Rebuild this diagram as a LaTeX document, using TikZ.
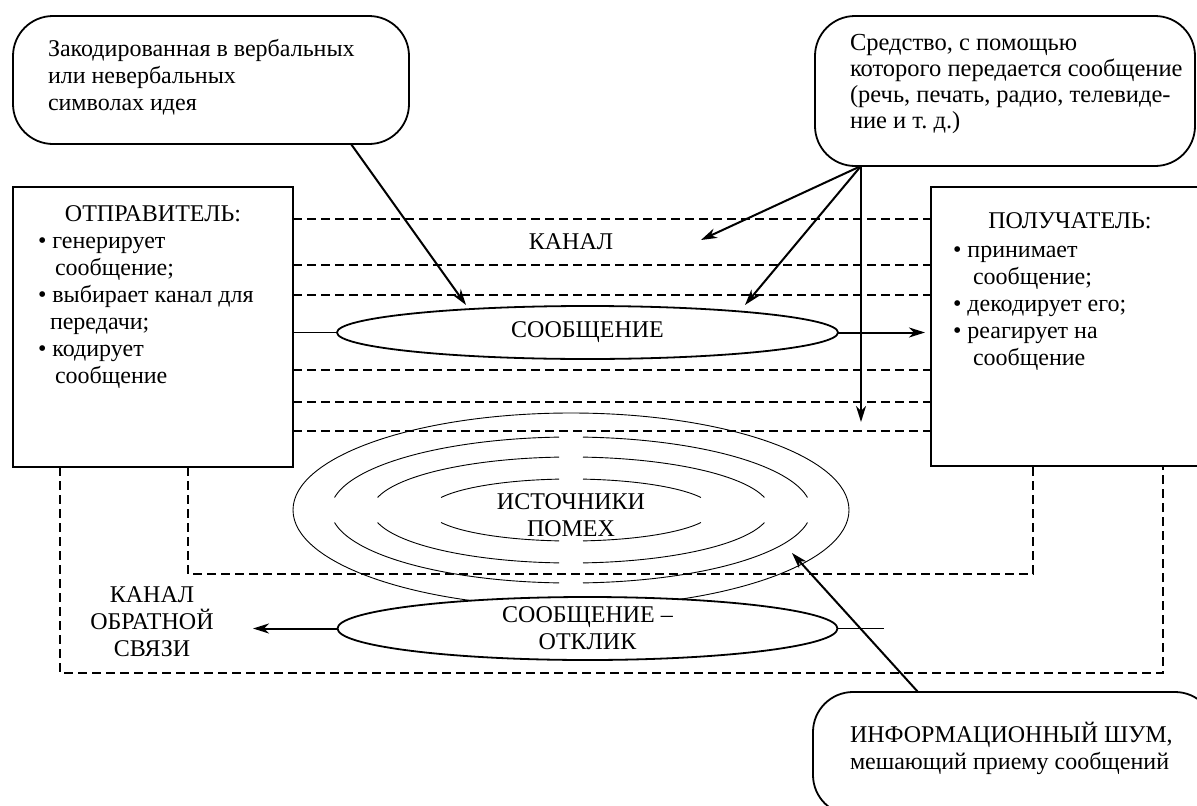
\documentclass[tikz,border=0pt]{standalone}
\usepackage{fontspec}
\setmainfont{Liberation Serif}
\usetikzlibrary{arrows.meta,shapes.geometric}
\begin{document}
\begin{tikzpicture}[x=1pt,y=-1pt,
  every node/.style={font=\fontsize{24}{27}\selectfont, inner sep=0pt, outer sep=0pt},
  frame/.style={draw, line width=1.8pt, fill=white, rectangle},
  callout/.style={draw, line width=1.8pt, rounded corners=40pt, fill=white, rectangle},
  msg/.style={draw, ellipse, line width=1.8pt, fill=white, align=center},
  chan/.style={line width=1.1pt, dash pattern=on 9pt off 5pt},
  noise/.style={line width=0.9pt},
  arr/.style={line width=2pt, -{Stealth[length=16pt,width=10pt,inset=5pt]}},
]
\clip (0,0) rectangle (1197,806);
\fill[white] (0,0) rectangle (1197,806);

% noise sources
\foreach \rx/\ry in {240/73, 199/53, 142/31} {
  \pgfmathsetmacro\ta{acos(12/\rx)}
  \pgfmathsetmacro\tb{asin(12.5/\ry)}
  \draw[noise] plot[domain=\tb:\ta, samples=40, smooth] ({571+\rx*cos(\x)}, {510+\ry*sin(\x)});
  \draw[noise] plot[domain={180-\ta}:{180-\tb}, samples=40, smooth] ({571+\rx*cos(\x)}, {510+\ry*sin(\x)});
  \draw[noise] plot[domain={180+\tb}:{180+\ta}, samples=40, smooth] ({571+\rx*cos(\x)}, {510+\ry*sin(\x)});
  \draw[noise] plot[domain={360-\ta}:{360-\tb}, samples=40, smooth] ({571+\rx*cos(\x)}, {510+\ry*sin(\x)});
}
\node[draw, ellipse, noise, minimum width=556pt, minimum height=194pt] (noise) at (571,510) {};
\node[align=center] (noisetxt) at (571,515) {ИСТОЧНИКИ\\ПОМЕХ};

% boxes
\node[frame, minimum width=280pt, minimum height=280pt] (snd) at (153,327) {};
\node[frame, minimum width=274pt, minimum height=279pt] (rcv) at (1068,326.5) {};

% channel lines
\foreach \yy in {219,265,295,370,402,431}
  \draw[chan] (snd.east |- 0,\yy) -- (rcv.west |- 0,\yy);

% feedback channel
\coordinate (fa) at (188,574);
\coordinate (fb) at (1033,574);
\coordinate (fc) at (60,673);
\coordinate (fd) at (1163,673);
\draw[chan] (snd.south -| fa) -- (fa) -- (fb) -- (rcv.south -| fb);
\draw[chan] (snd.south -| fc) -- (fc) -- (fd) -- (rcv.south -| fd);

% messages
\node[msg, minimum width=501pt, minimum height=53pt] (msg) at (587.5,332.5) {СООБЩЕНИЕ};
\node[msg, minimum width=500pt, minimum height=63pt] (resp) at (587.5,628.5) {СООБЩЕНИЕ –\\ОТКЛИК};
\draw[line width=1.1pt] (snd.east |- msg.west) -- (msg.west);
\draw[arr, shorten >=6pt] (msg.east) -- (rcv.west |- msg.east);
\coordinate (fbtip) at (253,628.5);
\coordinate (respend) at (884,628.5);
\draw[arr] (resp.west) -- (fbtip);
\draw[line width=1.1pt] (resp.east) -- (respend);

% callouts
\node[callout, minimum width=396pt, minimum height=128pt] (c1) at (211,80) {};
\node[callout, minimum width=380pt, minimum height=150pt] (c2) at (1005,91) {};
\node[callout, minimum width=402pt, minimum height=123pt] (c3) at (1014,753.5) {};

% arrows
\coordinate (t1) at (466,305);
\coordinate (t2) at (701,240);
\coordinate (t3) at (745,305);
\coordinate (t4) at (861,422);
\coordinate (t5) at (792,553);
\draw[arr] (c1.south -| 351,0) -- (t1);
\draw[arr] (c2.south -| t4) -- (t2);
\draw[arr] (c2.south -| t4) -- (t3);
\draw[arr] (c2.south -| t4) -- (t4);
\draw[arr] (c3.north -| 918,0) -- (t5);

% texts (anchor base = baseline of the last line)
\node[anchor=base west, align=left] (c1txt) at (48,110) {Закодированная в вербальных\\или невербальных\\символах идея};
\node[anchor=base west, align=left, font=\fontsize{24.5}{26}\selectfont] (c2txt) at (850,128) {Средство, с помощью\\которого передается сообщение\\(речь, печать, радио, телевиде-\\ние и т.~д.)};
\node[anchor=base west, align=left] (c3txt) at (850,769) {ИНФОРМАЦИОННЫЙ ШУМ,\\мешающий приему сообщений};

\node[anchor=base] (sndtitle) at (153,221) {ОТПРАВИТЕЛЬ:};
\node[anchor=base west, align=left] (sndlist) at (38,383) {• генерирует\\\hspace*{17pt}сообщение;\\• выбирает канал для\\\hspace*{12pt}передачи;\\• кодирует\\\hspace*{17pt}сообщение};
\node[anchor=base] (rcvtitle) at (1070,228) {ПОЛУЧАТЕЛЬ:};
\node[anchor=base west, align=left] (rcvlist) at (953,365) {• принимает\\\hspace*{20pt}сообщение;\\• декодирует его;\\• реагирует на\\\hspace*{20pt}сообщение};

\node (kanal) at (571,242) {КАНАЛ};
\node[align=center] (fbtxt) at (152,622) {КАНАЛ\\ОБРАТНОЙ\\СВЯЗИ};
\end{tikzpicture}
\end{document}
